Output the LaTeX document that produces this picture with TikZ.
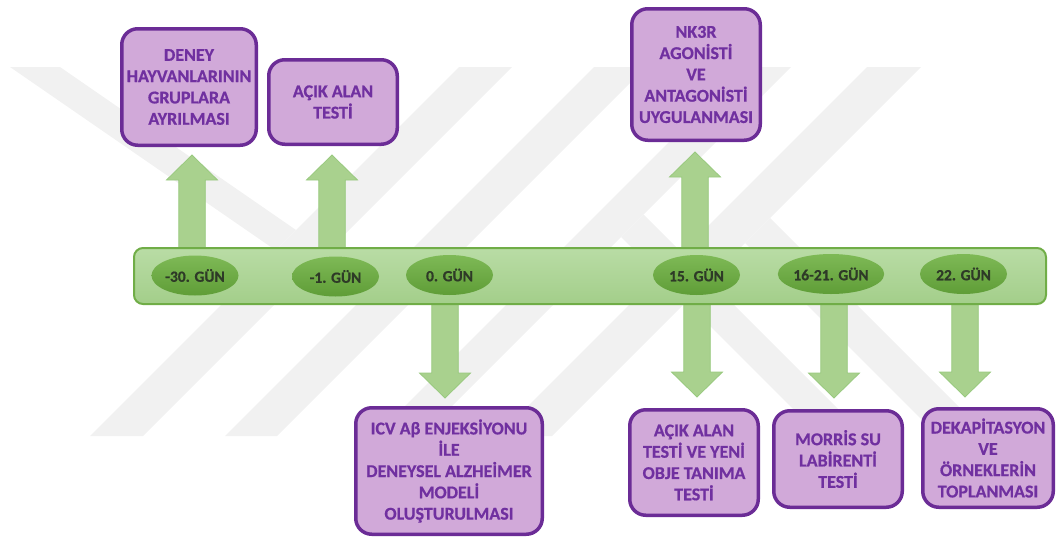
\documentclass[tikz,border=0pt]{standalone}
\usepackage{fontspec}
\setmainfont{Carlito}[BoldFeatures={FakeBold=0.7}]
\usetikzlibrary{shapes.geometric,calc}
\definecolor{boxfill}{HTML}{D1A9D9}
\definecolor{boxline}{HTML}{6B2C96}
\definecolor{boxtext}{HTML}{7030A0}
\definecolor{arrowfill}{HTML}{A9D18E}
\definecolor{arrowline}{HTML}{98C97E}
\definecolor{bartop}{HTML}{B9DCA5}
\definecolor{barbot}{HTML}{A3CE8A}
\definecolor{barline}{HTML}{70AD47}
\definecolor{elltop}{HTML}{7EB956}
\definecolor{ellbot}{HTML}{5F9D37}
\definecolor{elltext}{HTML}{2E3A27}
\definecolor{wm}{HTML}{F1F1F1}
\newcommand\blockarrow[2]{%
  \draw[blockarrow] let \p1=(#1), \p2=(#2),
    \n1={ifthenelse(\y2>\y1,\y2-25,\y2+25)} in
    (\x1-13.25pt,\y1) -- (\x1-13.25pt,\n1*1pt) -- (\x1-25.5pt,\n1*1pt)
    -- (\x2,\y2) -- (\x1+25.5pt,\n1*1pt) -- (\x1+13.25pt,\n1*1pt)
    -- (\x1+13.25pt,\y1) -- cycle;}
\begin{document}
\begin{tikzpicture}[x=1pt,y=-1pt,
  stepbox/.style={draw=boxline, line width=3.5pt, fill=boxfill,
    rounded corners=16pt, text=boxtext,
    font=\fontsize{18}{21.3}\selectfont\bfseries, align=center, inner sep=0pt},
  day/.style={ellipse, minimum width=87pt, minimum height=40pt, inner sep=0pt,
    top color=elltop, bottom color=ellbot, text=elltext,
    font=\fontsize{15.5}{18}\selectfont\bfseries},
  blockarrow/.style={fill=arrowfill, draw=arrowline, line width=0.8pt},
  wmark/.style={fill=wm, draw=none}]
\useasboundingbox (0,0) rectangle (1056,538);
% watermark
\fill[wmark] (90,436) -- (143,436) -- (512,67) -- (459,67) -- cycle;
\fill[wmark] (225,436) -- (277,436) -- (646,67) -- (594,67) -- cycle;
\fill[wmark] (375,436) -- (422,436) -- (791,67) -- (744,67) -- cycle;
\fill[wmark] (498,436) -- (552,436) -- (921,67) -- (867,67) -- cycle;
\fill[wmark] (10,67) -- (60,67) -- (296,230) -- (275.7,250.3) -- cycle;
\fill[wmark] (643.5,214.5) -- (621,237) -- (820,436) -- (865,436) -- cycle;
\fill[wmark] (770,218) -- (745,243) -- (938,436) -- (988,436) -- cycle;
% boxes
\node[stepbox, minimum width=134.5pt, minimum height=116.5pt] (b1) at (189,87)
  {DENEY\\HAYVANLARININ\\GRUPLARA\\AYRILMASI};
\node[stepbox, minimum width=128.5pt, minimum height=84.5pt] (b2) at (333,102)
  {AÇIK ALAN\\TESTİ};
\node[stepbox, minimum width=128.5pt, minimum height=131.5pt] (b3) at (696,74.5)
  {NK3R\\AGONİSTİ\\VE\\ANTAGONİSTİ\\UYGULANMASI};
\node[stepbox, minimum width=186.5pt, minimum height=126.5pt] (b4) at (449,471)
  {ICV Aβ ENJEKSİYONU\\İLE\\DENEYSEL ALZHEİMER\\MODELİ\\OLUŞTURULMASI};
\node[stepbox, minimum width=128.5pt, minimum height=105.5pt] (b5) at (694,462.5)
  {AÇIK ALAN\\TESTİ VE YENİ\\OBJE TANIMA\\TESTİ};
\node[stepbox, minimum width=128.5pt, minimum height=96.5pt] (b6) at (838,459)
  {MORRİS SU\\LABİRENTİ\\TESTİ};
\node[stepbox, minimum width=130.5pt, minimum height=98.5pt] (b7) at (988,458)
  {DEKAPİTASYON\\VE\\ÖRNEKLERİN\\TOPLANMASI};
% bar geometry (for arrow tails)
\path (590,276) node[minimum width=912pt, minimum height=56pt, inner sep=0pt] (barshape) {};
% arrow tips
\coordinate (u1) at (192,155);
\coordinate (u2) at (332,155);
\coordinate (u3) at (695,152);
\coordinate (v1) at (445,398);
\coordinate (v2) at (697,397);
\coordinate (v3) at (834,398);
\coordinate (v4) at (965,397);
\blockarrow{u1 |- barshape.north}{u1}
\blockarrow{u2 |- barshape.north}{u2}
\blockarrow{u3 |- barshape.north}{u3}
\blockarrow{v1 |- barshape.south}{v1}
\blockarrow{v2 |- barshape.south}{v2}
\blockarrow{v3 |- barshape.south}{v3}
\blockarrow{v4 |- barshape.south}{v4}
% bar
\node[draw=barline, line width=2pt, top color=bartop, bottom color=barbot,
  rounded corners=9pt, minimum width=912pt, minimum height=56pt, inner sep=0pt]
  (bar) at (590,276) {};
% days
\node[day] (d1) at (195,275.5) {-30. GÜN};
\node[day] (d2) at (335.5,276.5) {-1. GÜN};
\node[day] (d3) at (449.5,275) {0. GÜN};
\node[day] (d4) at (696.5,275) {15. GÜN};
\node[day] (d5) at (831,274) {16-21. GÜN};
\node[day] (d6) at (963.5,274) {22. GÜN};
\end{tikzpicture}
\end{document}
